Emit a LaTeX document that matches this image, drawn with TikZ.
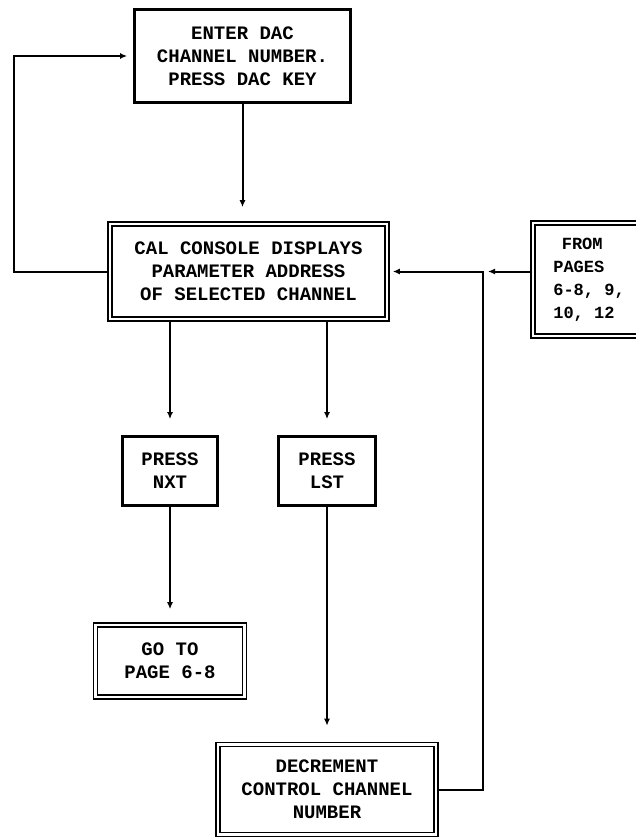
\documentclass[tikz,border=0pt]{standalone}
\usepackage{fontspec}
\setmonofont{Liberation Mono}
\usetikzlibrary{arrows.meta,calc}
\begin{document}
\begin{tikzpicture}[x=1pt,y=-1pt,
  txt/.style={font=\ttfamily\bfseries\fontsize{19}{23}\selectfont, align=center, inner sep=0pt},
  single/.style={txt, draw, line width=2.8pt},
  dbl/.style={txt, draw, line width=1.6pt, double, double distance=2.2pt},
  conn/.style={line width=2pt},
  arr/.style={conn, -{Latex[length=7pt,width=6pt]}},
]
\useasboundingbox (0,0) rectangle (635,840);
\node[single, minimum width=216pt, minimum height=93pt] (top) at (242.5,56)
  {ENTER DAC\\CHANNEL NUMBER.\\PRESS DAC KEY};
\node[dbl, minimum width=277pt, minimum height=95pt] (cal) at (248.5,271.5)
  {CAL CONSOLE DISPLAYS\\PARAMETER ADDRESS\\OF SELECTED CHANNEL};
\node[dbl, minimum width=112pt, minimum height=113pt, align=left,
  font=\ttfamily\bfseries\fontsize{17}{23}\selectfont] (from) at (589,279.5)
  {\hspace*{0.5em}FROM\\PAGES\\6-8, 9,\\10, 12};
\node[single, minimum width=95pt, minimum height=69pt] (nxt) at (170,471) {PRESS\\NXT};
\node[single, minimum width=97pt, minimum height=69pt] (lst) at (327,471) {PRESS\\LST};
\node[dbl, minimum width=149pt, minimum height=72pt] (goto) at (170,661) {GO TO\\PAGE 6-8};
\node[dbl, minimum width=218pt, minimum height=90pt] (dec) at (327,789.5)
  {DECREMENT\\CONTROL CHANNEL\\NUMBER};
\coordinate (lc) at (14,271.5);
\coordinate (j) at (483,271.5);
\draw[arr, shorten >=16pt] (top.south) -- (top.south |- cal.north);
\draw[arr, shorten >=16pt] (nxt.north |- cal.south) -- (nxt.north);
\draw[arr, shorten >=16pt] (lst.north |- cal.south) -- (lst.north);
\draw[arr, shorten >=15pt] (nxt.south) -- (goto.north);
\draw[arr, shorten >=18pt] (lst.south) -- (lst.south |- dec.north);
\draw[arr, shorten >=6pt] (cal.west) -- (lc) |- (top.west);
\draw[arr, shorten >=5pt] (dec.east) -| (j) -- (cal.east);
\draw[arr, shorten >=5pt] (from.west |- j) -- (j);
\end{tikzpicture}
\end{document}
